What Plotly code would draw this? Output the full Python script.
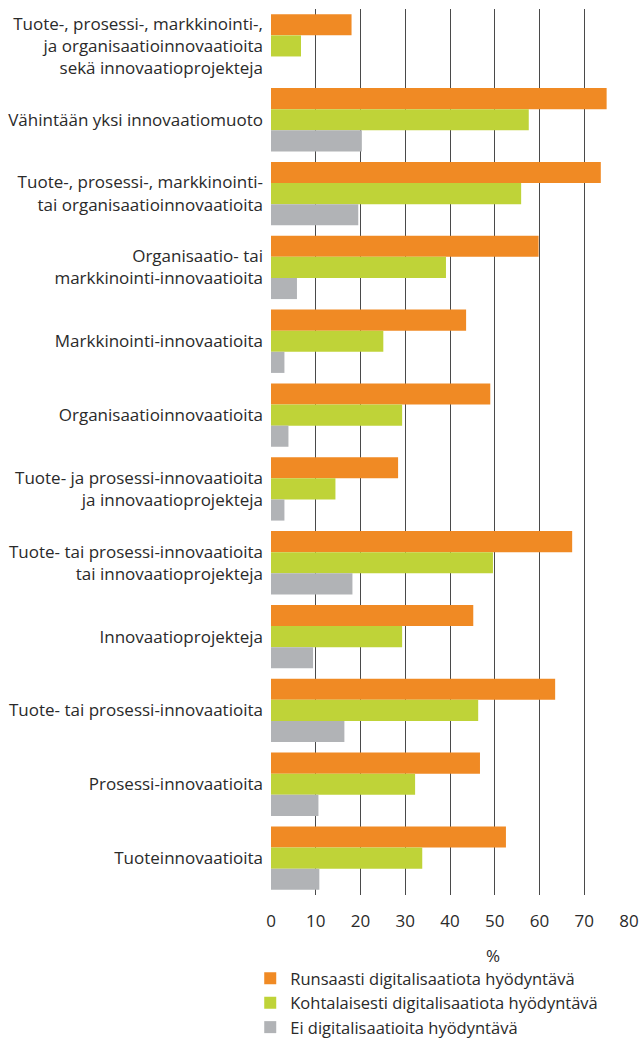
import plotly.graph_objects as go

categories = [
    "Tuote-, prosessi-, markkinointi-,<br>ja organisaatioinnovaatioita<br>sekä innovaatioprojekteja",
    "Vähintään yksi innovaatiomuoto",
    "Tuote-, prosessi-, markkinointi-<br>tai organisaatioinnovaatioita",
    "Organisaatio- tai<br>markkinointi-innovaatioita",
    "Markkinointi-innovaatioita",
    "Organisaatioinnovaatioita",
    "Tuote- ja prosessi-innovaatioita<br>ja innovaatioprojekteja",
    "Tuote- tai prosessi-innovaatioita<br>tai innovaatioprojekteja",
    "Innovaatioprojekteja",
    "Tuote- tai prosessi-innovaatioita",
    "Prosessi-innovaatioita",
    "Tuoteinnovaatioita",
]

runsaasti = [18.0, 75.0, 73.7, 59.8, 43.6, 49.0, 28.4, 67.3, 45.2, 63.5, 46.7, 52.5]
kohtalaisesti = [6.7, 57.6, 55.9, 39.1, 25.1, 29.3, 14.4, 49.6, 29.3, 46.3, 32.2, 33.8]
ei = [None, 20.3, 19.5, 5.8, 3.0, 3.9, 3.0, 18.2, 9.4, 16.4, 10.6, 10.8]

series_names = [
    "Runsaasti digitalisaatiota hyödyntävä",
    "Kohtalaisesti digitalisaatiota hyödyntävä",
    "Ei digitalisaatioita hyödyntävä",
]
colors = ["#F08A24", "#BFD338", "#B1B3B6"]
x_ticks = [0, 10, 20, 30, 40, 50, 60, 70, 80]

FONT = "Open Sans"
TXT = "#2a2a2a"
FS = 17

fig = go.Figure()
for name, vals, col in zip(series_names, [runsaasti, kohtalaisesti, ei], colors):
    fig.add_trace(go.Bar(
        y=categories, x=vals, name=name, orientation="h",
        marker=dict(color=col, line=dict(width=0)),
        legendgroup=name,
    ))

fig.update_layout(
    width=644, height=1038,
    barmode="group", bargap=0.142, bargroupgap=0,
    margin=dict(l=271, r=15, t=9, b=143, autoexpand=False),
    paper_bgcolor="white", plot_bgcolor="white",
    font=dict(family=FONT, size=FS, color=TXT),
    showlegend=True,
    legend=dict(
        x=-0.058, xanchor="left", y=-0.0745, yanchor="top",
        orientation="v", traceorder="normal",
        font=dict(family=FONT, size=16.5, color=TXT),
        tracegroupgap=0, itemwidth=30,
        bgcolor="rgba(0,0,0,0)",
    ),
    xaxis=dict(
        range=[0, 80], tickvals=x_ticks, ticktext=[str(v) for v in x_ticks],
        showgrid=True, gridcolor="#4a4a4a", gridwidth=1.3,
        zeroline=False, showline=False,
        ticks="", ticklabelstandoff=14, automargin=False,
        tickfont=dict(family=FONT, size=FS, color=TXT),
    ),
    yaxis=dict(
        autorange="reversed", showgrid=False, zeroline=False,
        showline=False, ticks="", automargin=False,
        ticklabelstandoff=7,
        tickfont=dict(family=FONT, size=FS, color=TXT),
    ),
    annotations=[dict(
        x=49.5, xref="x", y=-0.0525, yref="paper", text="%",
        showarrow=False, font=dict(family=FONT, size=FS, color=TXT),
        xanchor="center", yanchor="top",
    )],
)

fig.write_html("out.html", config={"displayModeBar": False},
               post_script="document.body.style.margin='0';")
